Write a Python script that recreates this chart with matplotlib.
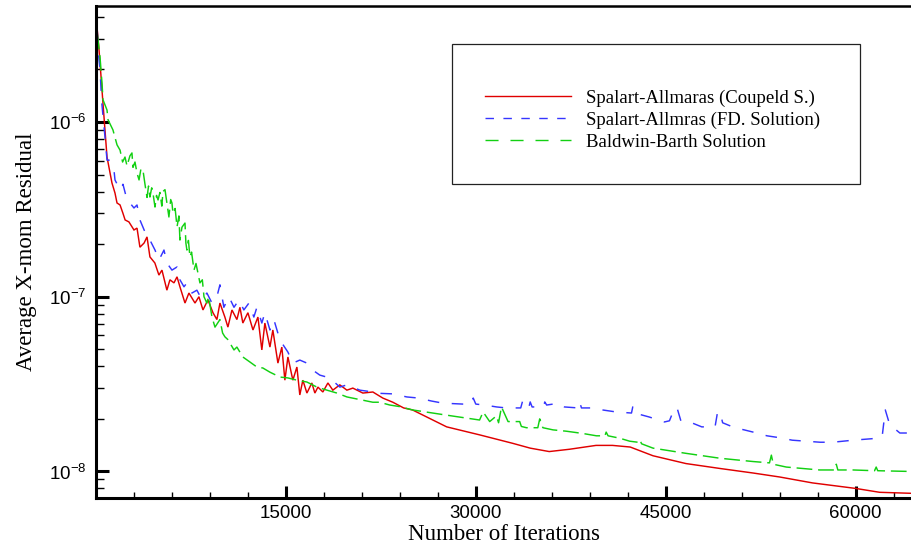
import matplotlib
matplotlib.use("Agg")
import matplotlib.pyplot as plt
from matplotlib.ticker import FixedLocator, MultipleLocator, LogLocator, NullFormatter, LogFormatterSciNotation
from matplotlib.lines import Line2D
from matplotlib.patches import Rectangle

# ---------------- data ----------------
red_x = [100, 240, 400, 550, 870, 1260, 1500, 1660, 1900, 2130, 2300, 2600, 3000, 3240, 3470, 3800,
         4030, 4260, 4650, 4970, 5210, 5600, 5840, 6160, 6400, 6630, 7030, 7340, 7820, 8130, 8450,
         8840, 9240, 9550, 9790, 10180, 10420, 10740, 11130, 11370, 11600, 12000, 12400, 12790,
         13100, 13340, 13740, 13970, 14370, 14680, 14920, 15160, 15550, 15870, 16100, 16340, 16660,
         17050, 17290, 17530, 17920, 18320, 18710, 19260, 19820, 20290, 21080, 21870, 22660, 23450,
         24300, 25000, 27700, 30300, 32900, 34300, 35800, 37400, 39500, 40800, 42200, 44000, 46600,
         49300, 51900, 54000, 56600, 60000, 61900, 64380]
red_y = [3.36e-6, 2.58e-6, 1.81e-6, 1.28e-6, 6.3e-7, 4.48e-7, 3.92e-7, 3.44e-7, 3.35e-7, 3.0e-7,
         2.75e-7, 2.68e-7, 2.41e-7, 2.47e-7, 1.92e-7, 2.03e-7, 2.2e-7, 1.69e-7, 1.56e-7, 1.33e-7,
         1.42e-7, 1.09e-7, 1.25e-7, 1.2e-7, 1.3e-7, 1.14e-7, 9.2e-8, 1.05e-7, 9.2e-8, 1.0e-7, 8.4e-8,
         9.6e-8, 8.1e-8, 7.4e-8, 9.2e-8, 7.65e-8, 6.7e-8, 8.4e-8, 7.4e-8, 8.7e-8, 7.07e-8, 8.1e-8,
         6.45e-8, 7.65e-8, 4.96e-8, 7.07e-8, 5.15e-8, 6.45e-8, 4.17e-8, 5.15e-8, 3.33e-8, 4.52e-8,
         3.33e-8, 3.96e-8, 2.74e-8, 3.33e-8, 2.81e-8, 3.21e-8, 2.81e-8, 3.04e-8, 2.85e-8, 3.21e-8,
         2.92e-8, 3.13e-8, 2.92e-8, 3.0e-8, 2.81e-8, 2.85e-8, 2.63e-8, 2.49e-8, 2.31e-8, 2.25e-8,
         1.8e-8, 1.62e-8, 1.45e-8, 1.36e-8, 1.3e-8, 1.34e-8, 1.41e-8, 1.41e-8, 1.38e-8, 1.23e-8,
         1.11e-8, 1.04e-8, 9.8e-9, 9.3e-9, 8.6e-9, 8.0e-9, 7.6e-9, 7.5e-9]

blue_x = [100, 240, 320, 450, 710, 870, 1030, 1420, 1500, 1900, 2130, 2450, 2680, 3000, 3240, 3470,
          4030, 4260, 4660, 4970, 5370, 5600, 6000, 6400, 6630, 6950, 7180, 7580, 7970, 8370, 8760,
          9160, 9550, 9790, 10100, 10500, 10900, 11290, 11680, 12080, 12470, 12710, 13100, 13340,
          13740, 14050, 14530, 15160, 15550, 16100, 16660, 17130, 17680, 18470, 19260, 19820, 20840,
          21870, 22400, 23450, 24550, 25500, 26500, 27400, 29000, 29600, 29800, 30000, 30700, 31650,
          32400, 33550, 33700, 33850, 34200, 34300, 34450, 35350, 35450, 35600, 36600, 37000, 38100,
          38200, 38350, 39250, 40000, 41100, 42300, 42400, 42550, 43700, 44900, 45300, 45700, 45900,
          46200, 47050, 47850, 48900, 49100, 49300, 49500, 50450, 51200, 52200, 53000, 54000, 55000,
          56100, 57200, 58200, 59800, 61300, 62100, 62350, 62700, 63200, 63500, 64380]
blue_y = [3.3e-6, 2.26e-6, 2.0e-6, 1.3e-6, 8.2e-7, 6.05e-7, 6.05e-7, 5.3e-7, 4.66e-7, 4.08e-7, 4.4e-7,
          3.58e-7, 3.44e-7, 3.22e-7, 3.35e-7, 2.75e-7, 2.2e-7, 2.11e-7, 1.85e-7, 1.62e-7, 1.85e-7,
          1.56e-7, 1.42e-7, 1.48e-7, 1.25e-7, 1.14e-7, 1.2e-7, 1.05e-7, 1.09e-7, 9.6e-8, 1.05e-7,
          9.2e-8, 1.0e-7, 1.17e-7, 8.7e-8, 1.0e-7, 8.7e-8, 9.6e-8, 8.4e-8, 9.2e-8, 7.65e-8, 8.7e-8,
          7.07e-8, 8.1e-8, 6.45e-8, 7.4e-8, 5.65e-8, 4.82e-8, 4.17e-8, 4.34e-8, 4.17e-8, 3.8e-8,
          3.56e-8, 3.43e-8, 3.04e-8, 3.13e-8, 2.92e-8, 2.85e-8, 2.8e-8, 2.78e-8, 2.67e-8, 2.63e-8,
          2.53e-8, 2.46e-8, 2.43e-8, 2.43e-8, 2.63e-8, 2.43e-8, 2.4e-8, 2.34e-8, 2.31e-8, 2.31e-8,
          2.53e-8, 2.34e-8, 2.34e-8, 2.5e-8, 2.34e-8, 2.34e-8, 2.5e-8, 2.4e-8, 2.46e-8, 2.34e-8,
          2.31e-8, 2.5e-8, 2.31e-8, 2.31e-8, 2.25e-8, 2.19e-8, 2.16e-8, 2.34e-8, 2.16e-8, 2.05e-8,
          1.92e-8, 1.95e-8, 2.31e-8, 2.31e-8, 1.95e-8, 1.9e-8, 1.8e-8, 1.8e-8, 2.19e-8, 2.19e-8,
          1.9e-8, 1.78e-8, 1.73e-8, 1.66e-8, 1.6e-8, 1.56e-8, 1.51e-8, 1.49e-8, 1.47e-8, 1.47e-8,
          1.51e-8, 1.54e-8, 1.58e-8, 2.25e-8, 1.85e-8, 1.73e-8, 1.66e-8, 1.66e-8]

green_x = [100, 316, 474, 553, 870, 950, 1340, 1660, 1900, 2100, 2290, 2450, 2680, 2840, 2920, 3080,
           3240, 3400, 3550, 3710, 3870, 4030, 4150, 4260, 4400, 4500, 4660, 4780, 4900, 5050, 5200,
           5290, 5450, 5600, 5760, 5900, 6000, 6080, 6250, 6400, 6550, 6630, 6790, 7030, 7100, 7180,
           7300, 7420, 7550, 7740, 7900, 8210, 8400, 8530, 8760, 8900, 9160, 9400, 9790, 10000, 10180,
           10400, 10580, 10900, 11130, 11600, 12160, 12710, 13180, 13740, 14530, 15160, 15870, 16660,
           17450, 18240, 19030, 19820, 20600, 21870, 22400, 23210, 24000, 25000, 27700, 30300, 30580,
           31100, 31630, 31800, 32030, 32550, 33470, 33600, 34000, 34900, 35050, 35300, 36100, 37150,
           38450, 39530, 40200, 40300, 40450, 41370, 42160, 42800, 42950, 43100, 44000, 46600, 49300,
           51900, 53200, 53350, 53500, 54530, 57160, 58350, 58480, 58600, 59800, 61500, 61630, 61750,
           64380]
green_y = [3.2e-6, 2.36e-6, 1.67e-6, 1.34e-6, 1.17e-6, 1.03e-6, 9.0e-7, 7.4e-7, 6.9e-7, 5.9e-7,
           6.3e-7, 5.6e-7, 6.4e-7, 6.65e-7, 5.5e-7, 5.9e-7, 5.1e-7, 4.66e-7, 5.4e-7, 5.3e-7, 4.4e-7,
           3.7e-7, 4.3e-7, 3.72e-7, 4.2e-7, 3.92e-7, 3.26e-7, 3.8e-7, 3.58e-7, 3.95e-7, 3.3e-7, 4.0e-7,
           4.1e-7, 3.44e-7, 2.86e-7, 3.6e-7, 3.44e-7, 3.0e-7, 3.2e-7, 2.51e-7, 2.9e-7, 2.11e-7, 2.5e-7,
           2.64e-7, 2.03e-7, 1.85e-7, 2.1e-7, 1.69e-7, 1.8e-7, 1.42e-7, 1.55e-7, 1.2e-7, 1.25e-7,
           1.0e-7, 9.2e-8, 1.0e-7, 7.65e-8, 6.7e-8, 7.4e-8, 6.2e-8, 5.9e-8, 5.7e-8, 5.43e-8, 4.96e-8,
           5.15e-8, 4.52e-8, 4.23e-8, 3.96e-8, 3.91e-8, 3.7e-8, 3.47e-8, 3.43e-8, 3.33e-8, 3.25e-8,
           3.04e-8, 2.92e-8, 2.81e-8, 2.67e-8, 2.6e-8, 2.49e-8, 2.49e-8, 2.4e-8, 2.35e-8, 2.25e-8,
           2.1e-8, 1.97e-8, 2.19e-8, 1.93e-8, 2.08e-8, 1.9e-8, 2.34e-8, 1.93e-8, 1.93e-8, 1.81e-8,
           1.78e-8, 1.78e-8, 2.0e-8, 1.78e-8, 1.73e-8, 1.7e-8, 1.65e-8, 1.6e-8, 1.6e-8, 1.68e-8,
           1.6e-8, 1.55e-8, 1.49e-8, 1.47e-8, 1.52e-8, 1.44e-8, 1.36e-8, 1.27e-8, 1.19e-8, 1.14e-8,
           1.12e-8, 1.24e-8, 1.1e-8, 1.06e-8, 1.02e-8, 1.02e-8, 1.1e-8, 1.02e-8, 1.02e-8, 1.01e-8,
           1.06e-8, 1.01e-8, 1.0e-8]

labels = ["Spalart-Allmaras (Coupeld S.)", "Spalart-Allmras (FD. Solution)", "Baldwin-Barth Solution"]
x_major = [15000, 30000, 45000, 60000]

# ---------------- figure ----------------
plt.rcParams['font.family'] = ['Liberation Sans', 'DejaVu Sans']
plt.rcParams['mathtext.fontset'] = 'custom'
plt.rcParams['mathtext.rm'] = 'Liberation Sans'

W, H = 911, 547
fig = plt.figure(figsize=(W / 100, H / 100), dpi=100)
ax = fig.add_axes([96 / W, (H - 498) / H, (W - 96) / W, 492 / H])

RED, BLUE, GREEN = '#e00000', '#3535ff', '#12d012'
ax.plot(red_x, red_y, color=RED, lw=1.05, solid_joinstyle='miter')
ax.plot(blue_x, blue_y, color=BLUE, lw=1.05, dashes=(7.9, 8.6))
ax.plot(green_x, green_y, color=GREEN, lw=1.05, dashes=(10.8, 4.0))

ax.set_yscale('log')
ax.set_xlim(0, 64380)
ax.set_ylim(7.05e-9, 4.61e-6)

ax.xaxis.set_major_locator(FixedLocator(x_major))
ax.xaxis.set_minor_locator(MultipleLocator(3000))
ax.yaxis.set_major_locator(LogLocator(base=10))
ax.yaxis.set_minor_locator(LogLocator(base=10, subs=range(2, 10)))
ax.yaxis.set_minor_formatter(NullFormatter())
ax.yaxis.set_major_formatter(LogFormatterSciNotation())

ax.tick_params(axis='both', which='both', direction='in', top=False, right=False, labelsize=13.5)
ax.tick_params(axis='y', which='major', length=9.4, width=2.2, pad=7)
ax.tick_params(axis='y', which='minor', length=5.8, width=1.0)
ax.tick_params(axis='x', which='major', length=8.6, width=2.2, pad=5)
ax.tick_params(axis='x', which='minor', length=4.3, width=1.0)

for s in ['left', 'bottom']:
    ax.spines[s].set_linewidth(2.2)
ax.spines['top'].set_linewidth(1.8)
ax.spines['right'].set_visible(False)

serif = ['Liberation Serif', 'DejaVu Serif']
ax.set_xlabel("Number of Iterations", family=serif, fontsize=16.5)
ax.set_ylabel("Average X-mom Residual", family=serif, fontsize=16.5)
ax.xaxis.set_label_coords(0.5, -0.052)
ax.yaxis.set_label_coords(-0.073, 0.5)

# legend box
ax.add_patch(Rectangle((0.437, 0.638), 0.500, 0.285, transform=ax.transAxes,
                       facecolor='white', edgecolor='#222222', lw=0.9, zorder=5))
handles = [Line2D([], [], color=RED, lw=1.0),
           Line2D([], [], color=BLUE, lw=1.0, dashes=(6.1, 6.8)),
           Line2D([], [], color=GREEN, lw=1.0, dashes=(9.4, 8.6))]
leg = ax.legend(handles, labels, loc='upper left', bbox_to_anchor=(0.477, 0.830),
                frameon=False, borderpad=0, borderaxespad=0, handlelength=4.6,
                handletextpad=0.8, labelspacing=0.25,
                prop={'family': serif, 'size': 13.5})
leg.set_zorder(6)

fig.savefig("out.png", dpi=100)
